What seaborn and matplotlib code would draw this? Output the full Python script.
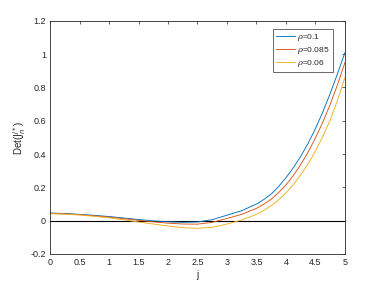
import pandas as pd
import matplotlib
matplotlib.use("Agg")
import matplotlib.pyplot as plt
import seaborn as sns

# values
j_vals = [0, 0.25, 0.5, 0.75, 1, 1.25, 1.5, 1.75, 2, 2.25, 2.5,
          2.75, 3, 3.25, 3.5, 3.625, 3.75, 3.875, 4, 4.125, 4.25, 4.375,
          4.5, 4.625, 4.75, 4.875, 5]
det_rho_010 = [0.046, 0.043, 0.038, 0.032, 0.025, 0.016, 0.007, -0.001, -0.007, -0.010, -0.008,
               0.006, 0.033, 0.060, 0.100, 0.127, 0.160, 0.205, 0.258, 0.318, 0.386, 0.464,
               0.553, 0.653, 0.764, 0.884, 1.010]
det_rho_0085 = [0.044, 0.041, 0.036, 0.029, 0.021, 0.012, 0.002, -0.007, -0.015, -0.020, -0.021,
                -0.010, 0.013, 0.038, 0.074, 0.099, 0.129, 0.168, 0.215, 0.271, 0.337, 0.412,
                0.497, 0.592, 0.698, 0.818, 0.950]
det_rho_006 = [0.042, 0.039, 0.034, 0.026, 0.017, 0.005, -0.008, -0.020, -0.032, -0.042, -0.046,
               -0.040, -0.020, 0.004, 0.038, 0.062, 0.090, 0.125, 0.167, 0.217, 0.275, 0.342,
               0.418, 0.506, 0.605, 0.724, 0.860]
labels = [r'$\rho$=0.1', r'$\rho$=0.085', r'$\rho$=0.06']
colors = ['#0072BD', '#D95319', '#EDB120']

x_ticks = [0, 0.5, 1, 1.5, 2, 2.5, 3, 3.5, 4, 4.5, 5]
y_ticks = [-0.2, 0, 0.2, 0.4, 0.6, 0.8, 1, 1.2]

# long table for seaborn
frames = []
for lab, vals in zip(labels, [det_rho_010, det_rho_0085, det_rho_006]):
    frames.append(pd.DataFrame({'j': j_vals, 'det': vals, 'rho': lab}))
df = pd.concat(frames, ignore_index=True)

sns.set_style('white')
plt.rcParams['font.family'] = ['Liberation Sans', 'DejaVu Sans']
plt.rcParams['mathtext.fontset'] = 'dejavuserif'

ink = '#262626'
fig = plt.figure(figsize=(3.82, 2.86), dpi=100)
ax = fig.add_axes([0.131, 0.112, 0.772, 0.815])

ax.axhline(0, color='black', linewidth=0.8, zorder=1)
sns.lineplot(data=df, x='j', y='det', hue='rho', palette=colors, linewidth=0.65,
             ax=ax, sort=False, zorder=2)

ax.set_xlim(0, 5)
ax.set_ylim(-0.2, 1.2)
ax.set_xticks(x_ticks)
ax.set_xticklabels(['0', '0.5', '1', '1.5', '2', '2.5', '3', '3.5', '4', '4.5', '5'])
ax.set_yticks(y_ticks)
ax.set_yticklabels(['-0.2', '0', '0.2', '0.4', '0.6', '0.8', '1', '1.2'])
ax.tick_params(direction='in', length=2.5, width=0.5, colors=ink, labelsize=6.5,
               top=True, right=True, pad=3)
for sp in ax.spines.values():
    sp.set_color(ink)
    sp.set_linewidth(0.6)

ax.set_xlabel('j', fontsize=7, color=ink, labelpad=2)
ax.set_ylabel(r'Det($\mathrm{J}_n^{j*}$)', fontsize=7, color=ink, labelpad=2,
              math_fontfamily='dejavusans')

leg = ax.legend(loc='upper right', bbox_to_anchor=(0.959, 0.966), borderaxespad=0,
                fontsize=6, frameon=True, fancybox=False, handlelength=2.3,
                handletextpad=0.3, borderpad=0.35, labelspacing=0.25, title=None)
leg.get_frame().set_edgecolor(ink)
leg.get_frame().set_linewidth(0.6)
for t in leg.get_texts():
    t.set_color(ink)

fig.savefig('out.png', dpi=100)
